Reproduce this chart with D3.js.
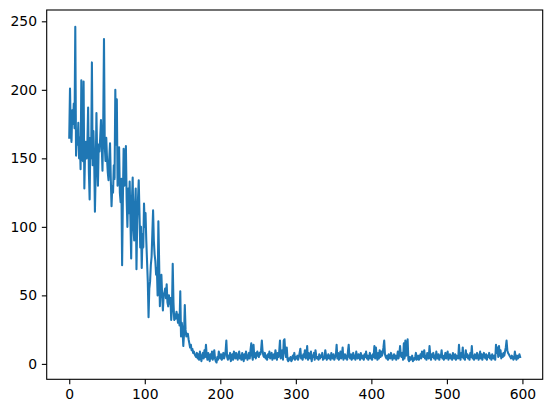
<!DOCTYPE html>
<html>
<head>
<meta charset="utf-8">
<script src="https://cdn.jsdelivr.net/npm/d3@7"></script>
<style>
	body { margin: 0; background: #fff; }
	svg { display: block; }
</style>
</head>
<body>
<div id="chart"></div>
<script>
(function() {
	"use strict";

	// series values, one per step (x = index)
	var values = [
		165, 201, 170, 162, 185, 175, 190, 172, 246, 152, 170, 160, 176, 150, 165, 142, 207, 150, 148, 206,
		128, 155, 162, 150, 160, 187, 140, 120, 165, 150, 220, 145, 170, 150, 111, 140, 183, 150, 130, 160,
		155, 165, 178, 160, 141, 175, 237, 160, 148, 165, 150, 140, 134, 150, 161, 135, 115, 130, 125, 145,
		135, 200, 160, 193, 130, 150, 158, 125, 118, 135, 72, 120, 157, 130, 140, 159, 120, 100, 128, 110,
		133, 105, 77, 120, 136, 100, 90, 115, 128, 69, 105, 120, 134, 110, 85, 100, 70, 95, 85, 117,
		100, 110, 90, 75, 60, 34, 55, 60, 72, 78, 95, 112, 90, 80, 75, 65, 70, 50, 104, 75,
		42, 60, 65, 50, 39, 50, 52, 55, 48, 58, 45, 42, 50, 44, 48, 32, 40, 73, 45, 32,
		36, 33, 38, 35, 30, 36, 28, 53, 20, 30, 25, 13, 22, 43, 25, 20, 22, 22, 18, 15,
		12, 14, 10, 11, 8, 9, 7, 6, 5, 8,
		4, 7, 3, 9, 5, 2, 6, 8, 4, 10, 5, 14, 6, 3, 8, 5, 2, 7, 4, 9,
		3, 6, 10, 4, 2, 1, 5, 3, 9, 6, 4, 7, 3, 5, 8, 4, 6, 9, 17, 5,
		3, 6, 4, 8, 2, 5, 7, 3, 9, 6, 4, 8, 5, 3, 7, 9, 4, 6, 3, 8,
		5, 2, 7, 4, 9, 6, 3, 5, 8, 4, 10, 15, 6, 3, 14, 5, 8, 4, 7, 9,
		6, 5, 8, 7, 10, 17, 9, 6, 5, 8, 4, 6, 3, 7, 5, 9, 4, 6, 8, 3,
		5, 7, 4, 10, 6, 3, 8, 5, 9, 17, 4, 6, 10, 3, 17, 18, 8, 5, 12, 3,
		2, 4, 3, 5, 2, 3, 6, 4, 8, 3, 5, 4, 6, 3, 5, 8, 11, 4, 6, 3,
		7, 5, 10, 4, 6, 13, 3, 8, 5, 4, 9, 2, 6, 5, 8, 3, 10, 6, 4, 5,
		3, 7, 4, 6, 5, 8, 3, 5, 4, 10, 6, 3, 5, 7, 4, 6, 3, 8, 5, 4,
		7, 3, 5, 6, 14, 4, 8, 3, 5, 9, 4, 6, 12, 3, 5, 7, 4, 6, 3, 9,
		14, 5, 4, 7, 3, 5, 8, 4, 6, 3, 9, 5, 4, 7, 6, 3, 8, 5, 4, 6,
		3, 7, 5, 9, 4, 6, 3, 5, 8, 4, 6, 3, 7, 5, 13, 4, 12, 6, 3, 8,
		4, 10, 5, 9, 6, 8, 12, 17, 7, 5, 4, 6, 3, 7, 5, 4, 8, 6, 3, 5,
		7, 4, 6, 3, 5, 9, 4, 7, 13, 6, 5, 8, 3, 15, 4, 17, 6, 8, 18, 3,
		2, 5, 3, 4, 6, 2, 4, 3, 5, 8, 3, 4, 6, 3, 5, 7, 4, 9, 6, 5,
		10, 4, 6, 3, 8, 5, 4, 13, 6, 3, 7, 5, 8, 4, 6, 3, 9, 5, 4, 7,
		3, 6, 5, 10, 4, 6, 3, 5, 8, 4, 6, 9, 3, 5, 7, 4, 6, 3, 8, 5,
		4, 7, 3, 6, 5, 4, 14, 6, 3, 8, 5, 12, 4, 6, 3, 10, 5, 7, 4, 6,
		3, 8, 5, 13, 4, 6, 3, 7, 5, 4, 8, 6, 3, 5, 9, 4, 7, 3, 6, 8,
		5, 4, 7, 3, 6, 5, 8, 4, 6, 3, 7, 5, 4, 6, 3, 14, 8, 12, 5, 13,
		6, 10, 4, 7, 5, 8, 6, 9, 12, 17, 10, 8, 7, 6, 5, 4, 6, 5, 3, 4,
		9, 5, 3, 6, 4, 5, 7, 5
	];

	var xTicks = [0, 100, 200, 300, 400, 500, 600];
	var yTicks = [0, 50, 100, 150, 200, 250];

	var width = 552,
		height = 413;
	var margin = { left: 46.7, right: 9.3, top: 10, bottom: 33.7 };

	var svg = d3.select("#chart").append("svg")
		.attr("width", width)
		.attr("height", height);

	// matplotlib-like autoscale: 5% padding on each side
	var xPad = (values.length - 1) * 0.05;
	var yExt = d3.extent(values);
	var yPad = (yExt[1] - yExt[0]) * 0.05;

	var x = d3.scaleLinear()
		.domain([-xPad, values.length - 1 + xPad])
		.range([margin.left, width - margin.right]);

	var y = d3.scaleLinear()
		.domain([yExt[0] - yPad, yExt[1] + yPad])
		.range([height - margin.bottom, margin.top]);

	var line = d3.line()
		.x(function(d, i) { return x(i); })
		.y(function(d) { return y(d); });

	svg.append("path")
		.datum(values)
		.attr("fill", "none")
		.attr("stroke", "#1f77b4")
		.attr("stroke-width", 2.08)
		.attr("stroke-linejoin", "round")
		.attr("stroke-linecap", "square")
		.attr("d", line);

	var xAxis = svg.append("g")
		.attr("transform", "translate(0," + (height - margin.bottom) + ")")
		.call(d3.axisBottom(x).tickValues(xTicks).tickSize(4.86).tickPadding(4.86).tickFormat(d3.format("d")));

	var yAxis = svg.append("g")
		.attr("transform", "translate(" + margin.left + ",0)")
		.call(d3.axisLeft(y).tickValues(yTicks).tickSize(4.86).tickPadding(4.86).tickFormat(d3.format("d")));

	[xAxis, yAxis].forEach(function(g) {
		g.select(".domain").remove();
		g.selectAll(".tick line")
			.attr("stroke", "#000")
			.attr("stroke-width", 1.1);
		g.selectAll(".tick text")
			.attr("fill", "#000")
			.style("font-family", "DejaVu Sans")
			.style("font-size", "13.9px");
	});

	// frame
	svg.append("rect")
		.attr("x", margin.left)
		.attr("y", margin.top)
		.attr("width", width - margin.left - margin.right)
		.attr("height", height - margin.top - margin.bottom)
		.attr("fill", "none")
		.attr("stroke", "#000")
		.attr("stroke-width", 1.1);
})();
</script>
</body>
</html>
